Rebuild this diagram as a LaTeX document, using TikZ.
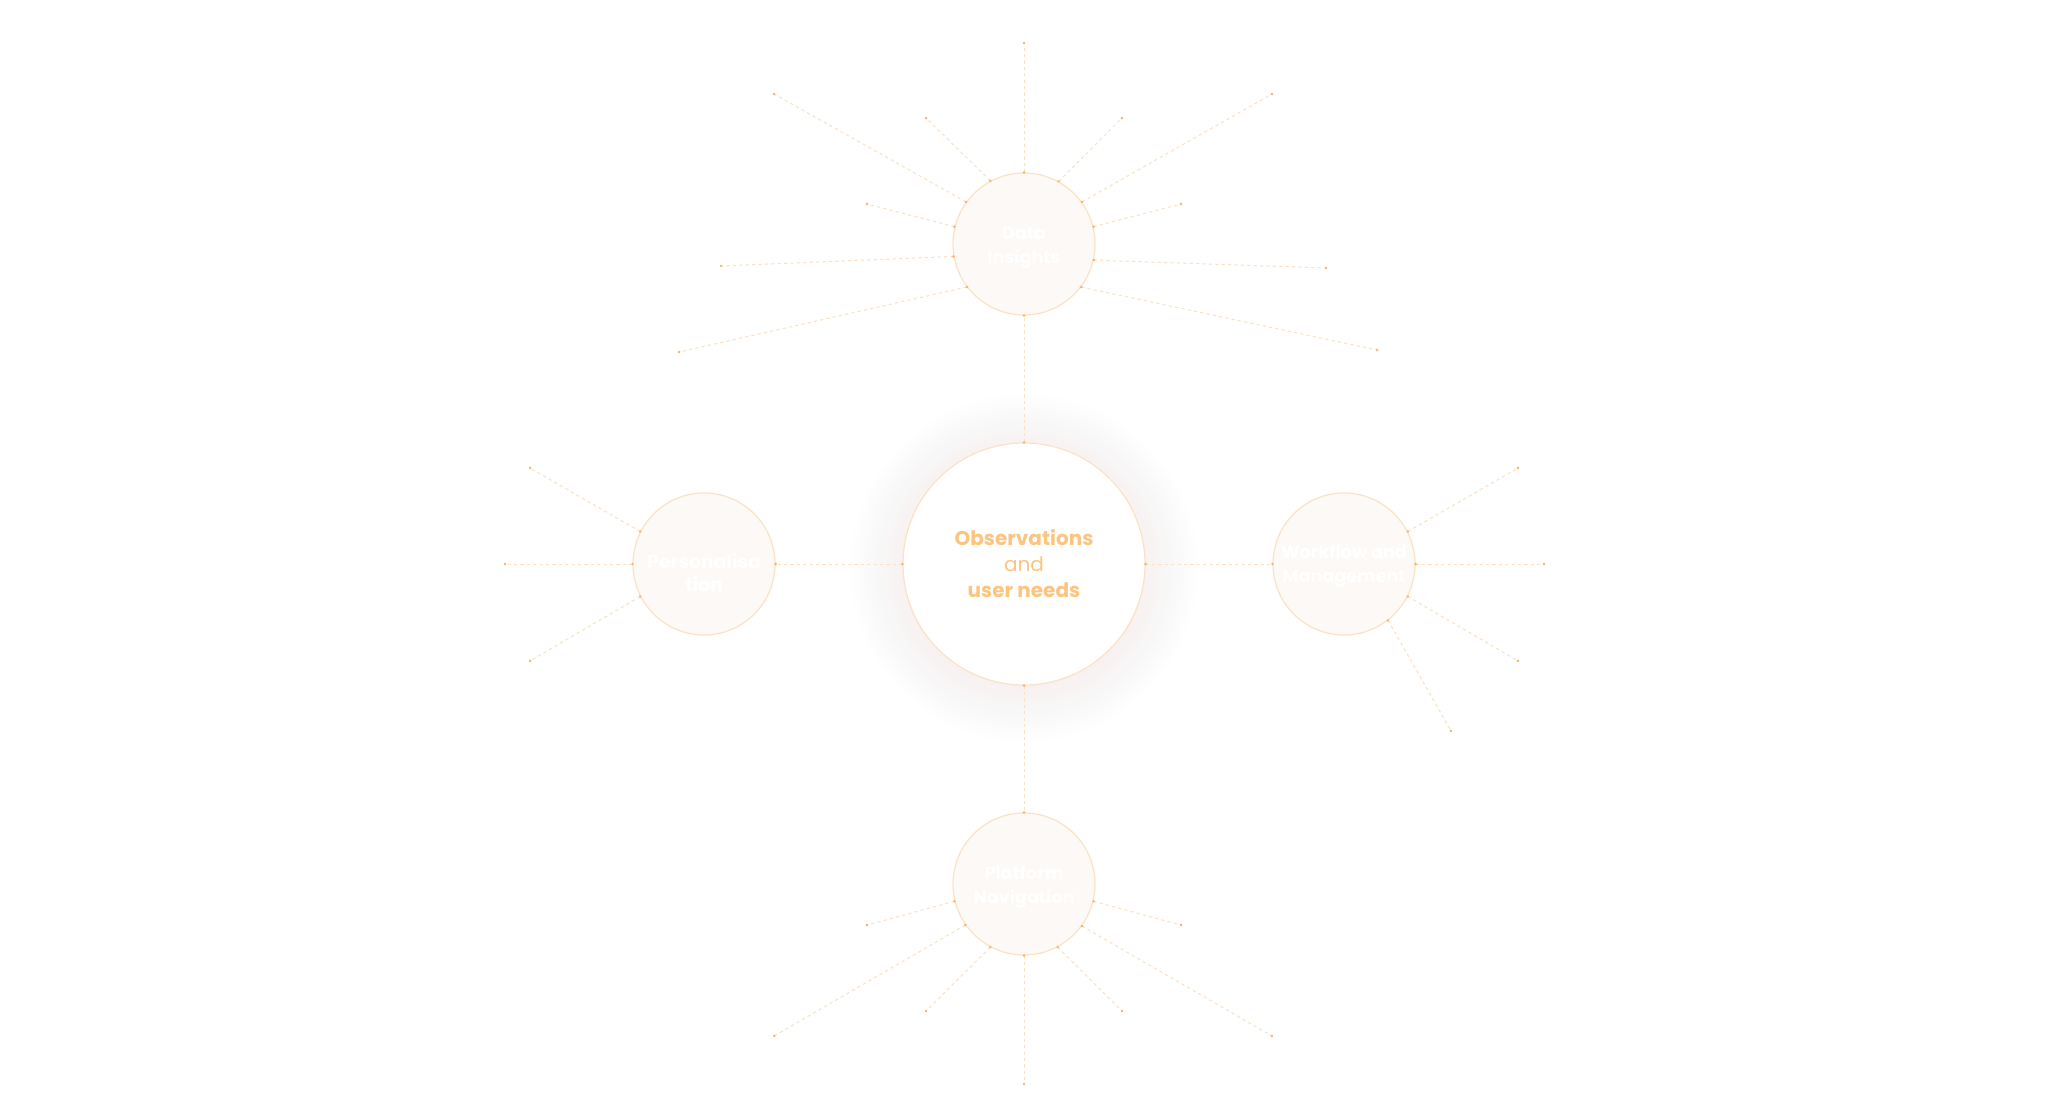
\documentclass[tikz,border=0pt]{standalone}
\usepackage{fontspec}
\newfontfamily\pop{Poppins}
\usetikzlibrary{decorations.markings}
\definecolor{spokec}{HTML}{FBE0C2}
\definecolor{dotc}{HTML}{F6B46C}
\definecolor{ringc}{HTML}{FBE2C5}
\definecolor{hubfill}{HTML}{FCF9F6}
\definecolor{txtc}{HTML}{FCC47F}
\definecolor{glowc}{HTML}{F8CC98}
\newcommand\hubtxt[2]{\raisebox{-#1}[\height][\depth]{\begin{tabular}{@{}c@{}}#2\end{tabular}}}
\tikzset{
  hub/.style={circle, draw=ringc, line width=0.6pt, fill=hubfill, minimum size=71pt, inner sep=0pt,
    text=white, font=\pop\bfseries\fontsize{8.8}{12}\selectfont, align=center},
  core/.style={circle, draw=ringc, line width=0.6pt, fill=white, minimum size=121pt, inner sep=0pt,
    text=txtc, font=\pop\fontsize{10}{13}\selectfont, align=center},
  spoke/.style={draw=spokec, line width=0.5pt, dash pattern=on 1.6pt off 1.6pt,
    postaction={decorate, decoration={markings,
      mark=at position 0 with {\fill[dotc] (0,0) circle (0.7pt);},
      mark=at position 1 with {\fill[dotc] (0,0) circle (0.7pt);}}}},
}
\begin{document}
\begin{tikzpicture}[x=0.5pt,y=-0.5pt]
\useasboundingbox[fill=white] (0,0) rectangle (2048,1106);
% faint glow around the core
\foreach \r in {122,126,...,174}{
  \fill[glowc, fill opacity=0.006] (1024,568) circle (\r*0.5pt);
}
\node[core] (core) at (1024,564) {{\bfseries Observations}\\and\\{\bfseries user needs}};
\node[hub] (top) at (1024,244) {\hubtxt{1.5pt}{Data\\Insights}};
\node[hub, font=\pop\bfseries\fontsize{9.4}{11.5}\selectfont] (left) at (704,564) {\hubtxt{5.5pt}{Personalisa\\tion}};
\node[hub] (right) at (1344,564) {\hubtxt{1pt}{Workflow and\\Management}};
\node[hub] (bot) at (1024,884) {\hubtxt{1.5pt}{Platform\\Navigation}};
% leaf ends
\coordinate (t1) at (1024,43);
\coordinate (t2) at (926,118);
\coordinate (t3) at (1122,118);
\coordinate (t4) at (774,94);
\coordinate (t5) at (1272,94);
\coordinate (t6) at (867,204);
\coordinate (t7) at (1181,204);
\coordinate (t8) at (721,266);
\coordinate (t9) at (1326,268);
\coordinate (t10) at (679,352);
\coordinate (t11) at (1377,350);
\coordinate (l1) at (530,468);
\coordinate (l2) at (505,564);
\coordinate (l3) at (530,661);
\coordinate (r1) at (1518,468);
\coordinate (r2) at (1544,564);
\coordinate (r3) at (1518,661);
\coordinate (r4) at (1451,731);
\coordinate (b1) at (1024,1084);
\coordinate (b2) at (926,1011);
\coordinate (b3) at (1122,1011);
\coordinate (b4) at (774,1036);
\coordinate (b5) at (1272,1036);
\coordinate (b6) at (867,925);
\coordinate (b7) at (1181,925);
% core to hubs
\path[spoke] (core.north) -- (top.south);
\path[spoke] (core.south) -- (bot.north);
\path[spoke] (core.west) -- (left.east);
\path[spoke] (core.east) -- (right.west);
% top hub
\foreach \a/\c in {90/t1,118.7/t2,61/t3,144.6/t4,36/t5,166.5/t6,14/t7,190/t8,-13/t9,217.7/t10,-37.7/t11}{
  \path[spoke] (top.\a) -- (\c);
}
% left hub
\foreach \a/\c in {153/l1,180/l2,207/l3}{
  \path[spoke] (left.\a) -- (\c);
}
% right hub
\foreach \a/\c in {27/r1,0/r2,-27/r3,-52/r4}{
  \path[spoke] (right.\a) -- (\c);
}
% bottom hub
\foreach \a/\c in {-90/b1,242/b2,-62/b3,215/b4,-36/b5,194/b6,-14/b7}{
  \path[spoke] (bot.\a) -- (\c);
}
\end{tikzpicture}
\end{document}
